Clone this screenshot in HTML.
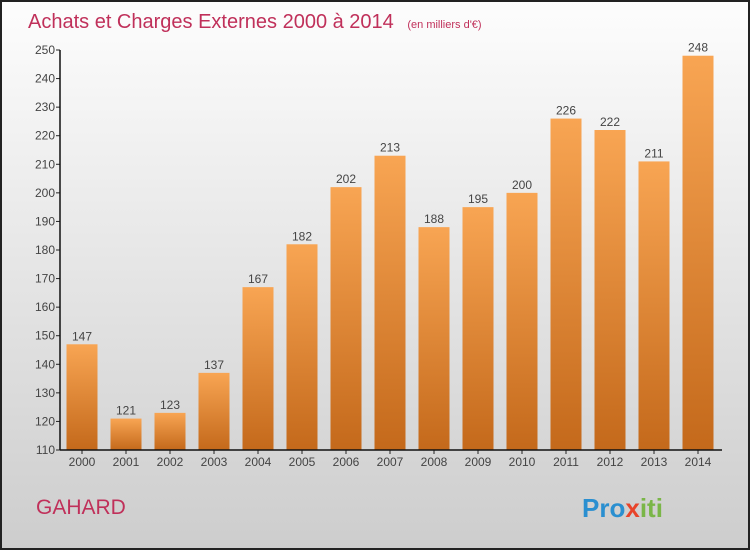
<!DOCTYPE html>
<html><head><meta charset="utf-8"><style>
body{margin:0}
#c{width:750px;height:550px;position:relative;font-family:"Liberation Sans",sans-serif}
</style></head><body>
<div id="c">
<svg id="s" width="750" height="550" xmlns="http://www.w3.org/2000/svg">
<defs>
<linearGradient id="bg" x1="0" y1="0" x2="0" y2="1"><stop offset="0" stop-color="#fdfdfd"/><stop offset="1" stop-color="#cdcdcd"/></linearGradient>
<linearGradient id="bar" x1="0" y1="0" x2="0" y2="1"><stop offset="0" stop-color="#f8a553"/><stop offset="1" stop-color="#c4691b"/></linearGradient>
</defs>
<rect x="1" y="1" width="748" height="548" fill="url(#bg)" stroke="#222" stroke-width="2"/>
<text x="28" y="28" font-size="20" fill="#c0305a">Achats et Charges Externes 2000 à 2014 <tspan font-size="11" dx="8">(en milliers d'€)</tspan></text>
<text x="36" y="514" font-size="21" fill="#c0305a">GAHARD</text>
<text x="582" y="517" font-size="26" font-weight="bold" fill="#2a8fd0">Pro<tspan fill="#e8442a">x</tspan><tspan fill="#7ab648">iti</tspan></text>
<g id="g"></g>
</svg>
</div>
<script>
const years=["2000","2001","2002","2003","2004","2005","2006","2007","2008","2009","2010","2011","2012","2013","2014"];
const values=[147,121,123,137,167,182,202,213,188,195,200,226,222,211,248];
const yTicks=[110,120,130,140,150,160,170,180,190,200,210,220,230,240,250];
const NS="http://www.w3.org/2000/svg";
const g=document.getElementById('g');
const x0=60,yMin=110,yMax=250,yTop=50,yBot=450,step=44;
function y(v){return yBot-(v-yMin)/(yMax-yMin)*(yBot-yTop);}
function xc(i){return 82+i*step;}
function mk(t,a){const e=document.createElementNS(NS,t);for(const k in a)e.setAttribute(k,a[k]);g.appendChild(e);return e;}
yTicks.forEach(v=>{
 const l=mk('line',{x1:x0-4,x2:x0,y1:y(v),y2:y(v),stroke:'#222'});
 
 
 const t=mk('text',{x:x0-5,y:y(v)+4,'font-size':12,'text-anchor':'end',fill:'#444'});
 t.textContent=v;
 
 
});
values.forEach((v,i)=>{
 const r=mk('rect',{x:xc(i)-15.5,y:y(v),width:31,height:yBot-y(v),fill:'url(#bar)'});
 
 
 const t=mk('text',{x:xc(i),y:y(v)-4,'font-size':12,'text-anchor':'middle',fill:'#444'});
 t.textContent=v;
 
 
 const xl=mk('text',{x:xc(i),y:466,'font-size':12,'text-anchor':'middle',fill:'#444'});
 xl.textContent=years[i];
 
 
 const tk=mk('line',{x1:xc(i),x2:xc(i),y1:yBot,y2:yBot+4,stroke:'#222'});
 
 
});
const ya=mk('line',{x1:x0,x2:x0,y1:yTop,y2:yBot,stroke:'#111','stroke-width':1.5});


const xa=mk('line',{x1:x0,x2:722,y1:yBot,y2:yBot,stroke:'#111','stroke-width':1.5});


</script>
</body></html>
